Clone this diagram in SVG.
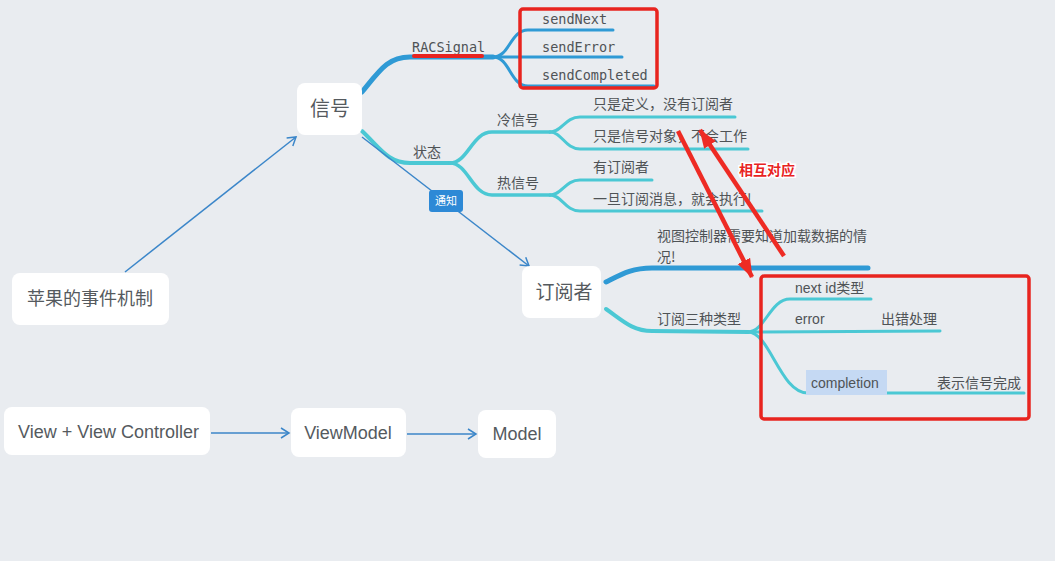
<svg xmlns="http://www.w3.org/2000/svg" width="1055" height="561" viewBox="0 0 1055 561">
<defs>
<marker id="open" markerWidth="12" markerHeight="12" refX="10" refY="6" orient="auto" markerUnits="userSpaceOnUse">
<path d="M2,1 L10,6 L2,11" fill="none" stroke="#3b86c9" stroke-width="1.5"/>
</marker>
<marker id="redhead" markerWidth="20" markerHeight="16" refX="18" refY="8" orient="auto" markerUnits="userSpaceOnUse">
<path d="M0,1 L19,8 L0,15 Z" fill="#ee2b24"/>
</marker>
<style>
.node{fill:#ffffff;}
.big{font-family:"Noto Sans CJK SC","Liberation Sans",sans-serif;fill:#555a5e;}
.lat{font-family:"Liberation Sans","Noto Sans CJK SC",sans-serif;fill:#555a5e;font-size:18px;}
.lbl{font-family:"Noto Sans CJK SC","Liberation Sans",sans-serif;font-size:14px;fill:#4f5356;}
.en{font-family:"Liberation Sans","Noto Sans CJK SC",sans-serif;font-size:14px;fill:#4f5356;}
.mono{font-family:"DejaVu Sans Mono","Liberation Mono",monospace;font-size:13.5px;fill:#4f5356;}
.blue{fill:none;stroke:#2f9ad5;stroke-linecap:round;}
.cyan{fill:none;stroke:#4bc8d4;stroke-linecap:round;}
.conn{fill:none;stroke:#3b86c9;stroke-width:1.5;marker-end:url(#open);}
.redbox{fill:none;stroke:#e8241f;stroke-width:3.5;}
.redarrow{stroke:#ee2b24;stroke-width:4.5;fill:none;marker-end:url(#redhead);}
</style>
</defs>
<rect width="1055" height="561" fill="#e9ecf0"/>

<g id="connectors">
<path class="blue" stroke-width="5" d="M362 92 C380 70,388 57,410 57 L493 57"/>
<path class="blue" stroke-width="3" d="M493 57 C510 57,510 30,528 30 L613 30"/>
<path class="blue" stroke-width="3" d="M493 57 L622 57"/>
<path class="blue" stroke-width="3" d="M493 57 C510 57,510 86,528 86 L654 86"/>
<path class="cyan" stroke-width="4" d="M362 131 C380 148,388 163,410 163 L450 163"/>
<path class="cyan" stroke-width="3.5" d="M450 163 C468 163,472 132,492 132 L550 132"/>
<path class="cyan" stroke-width="3.5" d="M450 163 C468 163,472 195,492 195 L550 195"/>
<path class="cyan" stroke-width="3" d="M550 132 C562 132,565 117,580 117 L735 117"/>
<path class="cyan" stroke-width="3" d="M550 132 C562 132,565 149,580 149 L748 149"/>
<path class="cyan" stroke-width="3" d="M550 195 C562 195,565 180,580 180 L652 180"/>
<path class="cyan" stroke-width="3" d="M550 195 C562 195,565 211,580 211 L762 211"/>
<path class="blue" stroke-width="5" d="M606 282 C622 274,632 268,652 268 L868 268"/>
<path class="cyan" stroke-width="4" d="M606 309 C622 320,632 331,652 331 L748 332"/>
<path class="cyan" stroke-width="3" d="M748 332 C765 332,770 299,790 299 L871 299"/>
<path class="cyan" stroke-width="3" d="M748 332 L940 331"/>
<path class="cyan" stroke-width="3" d="M748 332 C770 332,780 393,808 393 L1024 393"/>
<line class="conn" x1="125" y1="272" x2="296" y2="137"/>
<line class="conn" x1="362" y1="137" x2="529" y2="266"/>
<line class="conn" x1="211" y1="433" x2="289" y2="433"/>
<line class="conn" x1="407" y1="434" x2="476" y2="434"/>
<g id="notify-label">
<rect x="429" y="190" width="34" height="22" rx="3" fill="#2d89d6"/>
<text x="446" y="205" text-anchor="middle" font-family="Noto Sans CJK SC, sans-serif" font-size="11" fill="#ffffff">通知</text>
</g>
</g>

<g id="n-xinhao"><rect class="node" x="297" y="83" width="65" height="52" rx="8"/><text class="big" x="330" y="116" font-size="20" text-anchor="middle">信号</text></g>
<g id="n-apple"><rect class="node" x="12" y="273" width="157" height="52" rx="8"/><text class="big" x="90" y="305" font-size="18" text-anchor="middle">苹果的事件机制</text></g>
<g id="n-sub"><rect class="node" x="522" y="266" width="79" height="52" rx="8"/><text class="big" x="564" y="299" font-size="19" text-anchor="middle">订阅者</text></g>
<g id="n-view"><rect class="node" x="4" y="407" width="206" height="48" rx="8"/><text class="lat" x="18" y="438">View + View Controller</text></g>
<g id="n-vm"><rect class="node" x="291" y="408" width="115" height="49" rx="8"/><text class="lat" x="348" y="439" text-anchor="middle">ViewModel</text></g>
<g id="n-model"><rect class="node" x="478" y="410" width="78" height="48" rx="8"/><text class="lat" x="517" y="440" text-anchor="middle">Model</text></g>

<g id="labels">
<text class="mono" x="412" y="52">RACSignal</text>
<text class="mono" x="542" y="24">sendNext</text>
<text class="mono" x="542" y="52">sendError</text>
<text class="mono" x="542" y="80">sendCompleted</text>
<text class="lbl" x="413" y="157">状态</text>
<text class="lbl" x="497" y="125">冷信号</text>
<text class="lbl" x="497" y="188">热信号</text>
<text class="lbl" x="593" y="109">只是定义，没有订阅者</text>
<text class="lbl" x="593" y="141">只是信号对象，不会工作</text>
<text class="lbl" x="593" y="172">有订阅者</text>
<text class="lbl" x="593" y="204">一旦订阅消息，就会执行!</text>
<text class="lbl" x="657" y="241">视图控制器需要知道加载数据的情</text>
<text class="lbl" x="657" y="262">况!</text>
<text class="lbl" x="657" y="324">订阅三种类型</text>
<text class="en" x="795" y="293">next id类型</text>
<text class="en" x="795" y="324">error</text>
<text class="lbl" x="881" y="324">出错处理</text>
<rect x="806" y="370" width="81" height="25" fill="#c5d9f3"/>
<text class="en" x="811" y="388">completion</text>
<text class="lbl" x="937" y="388">表示信号完成</text>
</g>

<g id="annotations">
<line x1="414" y1="56" x2="482" y2="56" stroke="#e8241f" stroke-width="4" stroke-linecap="round"/>
<rect class="redbox" x="520" y="9" width="137" height="79" rx="3"/>
<rect class="redbox" x="761" y="276" width="268" height="143" rx="3"/>
<line class="redarrow" x1="678" y1="131" x2="752" y2="277"/>
<line class="redarrow" x1="784" y1="256" x2="700" y2="130"/>
<text x="739" y="175" font-family="Noto Sans CJK SC, sans-serif" font-size="14" font-weight="bold" fill="#e8241f" stroke="#ffffff" stroke-width="3" paint-order="stroke">相互对应</text>
</g>
</svg>
